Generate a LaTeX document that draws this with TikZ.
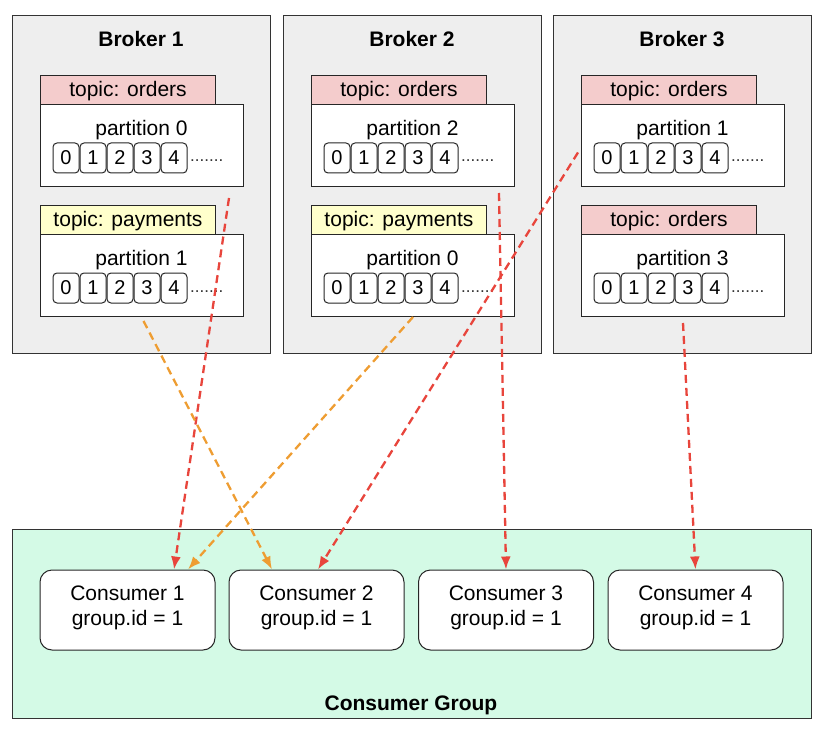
\documentclass[tikz,border=0pt]{standalone}
\usepackage{fontspec}
\setmainfont{Liberation Sans}
\usepackage{tikz}
\usetikzlibrary{
	arrows.meta,
	calc
}
\definecolor{brokerfill}{HTML}{EEEEEE}
\definecolor{groupfill}{HTML}{D4FAE6}
\definecolor{orderfill}{HTML}{F4CCCC}
\definecolor{payfill}{HTML}{FFFFCC}
\definecolor{linkred}{HTML}{E8453C}
\definecolor{linkorange}{HTML}{EE9D32}
\tikzset{
	every node/.style={
		font=\fontsize{21}{25}\selectfont
	},
	broker/.style={
		draw=black!80,
		fill=brokerfill,
		line width=1pt,
		anchor=north west,
		minimum width=258pt,
		minimum height=338pt
	},
	title/.style={
		font=\fontsize{21}{25}\selectfont\bfseries
	},
	tab/.style={
		draw=black!85,
		line width=1pt,
		anchor=north west,
		minimum width=175pt,
		minimum height=29pt,
		inner sep=0pt,
		text depth=3pt
	},
	orders/.style={fill=orderfill},
	payments/.style={fill=payfill},
	part/.style={
		draw=black!85,
		fill=white,
		line width=1pt,
		anchor=north west,
		minimum width=203pt,
		minimum height=82pt
	},
	cell/.style={
		draw=black!85,
		fill=white,
		line width=1pt,
		rounded corners=4pt,
		minimum width=26pt,
		minimum height=30pt,
		inner sep=0pt,
		font=\fontsize{20}{24}\selectfont
	},
	consumer/.style={
		draw=black!85,
		fill=white,
		line width=1pt,
		rounded corners=12pt,
		minimum width=175pt,
		minimum height=80pt,
		align=center
	},
	link/.style={
		line width=2.3pt,
		dash pattern=on 8pt off 5pt,
		-{Latex[length=13pt,width=10pt]}
	}
}
% name, x, y, tab style, topic, partition
\newcommand{\kpart}[6]{
	\node[tab,#4] (#1t) at (#2,#3) {topic: #5};
	\node[part] (#1) at (#2,#3+29) {};
	\node (#1l) at (#2+101.5,#3+55) {partition #6};
	\foreach \i in {0,...,4}
		\node[cell] (#1c\i) at (#2+26+27*\i,#3+83) {\i};
	\node[anchor=base west,inner sep=0pt,text=black!80,
		font=\fontsize{17}{20}\selectfont] (#1d) at (#2+150,#3+87) {.......};
}

\begin{document}
\begin{tikzpicture}[x=1pt,y=-1pt] %%%%% brokers and consumer group
	\useasboundingbox (0,0) rectangle (824,738);
	\node[broker] (b1) at (12,15) {};
	\node[broker] (b2) at (283,15) {};
	\node[broker] (b3) at (553,15) {};
	\node[title] (b1n) at (141,39) {Broker 1};
	\node[title] (b2n) at (412,39) {Broker 2};
	\node[title] (b3n) at (682,39) {Broker 3};
	\kpart{b1p0}{40}{75}{orders}{orders}{0}
	\kpart{b1p1}{40}{205}{payments}{payments}{1}
	\kpart{b2p2}{311}{75}{orders}{orders}{2}
	\kpart{b2p0}{311}{205}{payments}{payments}{0}
	\kpart{b3p1}{581}{75}{orders}{orders}{1}
	\kpart{b3p3}{581}{205}{orders}{orders}{3}
	\node[draw=black!80,fill=groupfill,line width=1pt,anchor=north west,
		minimum width=799pt,minimum height=189pt] (grp) at (12,529) {};
	\node[title] (grpn) at (411,705) {Consumer Group};
	\foreach \n/\x in {1/127.5,2/316.5,3/506,4/695.5}
		\node[consumer] (c\n) at (\x,610) {};
	\foreach \n in {1,...,4}
		\node[align=center] (c\n t) at ([yshift=2pt]c\n.center) {Consumer \n\\group.id = 1};
	\coordinate (s1) at ([xshift=-15pt,yshift=-11pt]b1p0.south east);
	\coordinate (s2) at ([xshift=1.5pt,yshift=-4pt]b1p1.south);
	\coordinate (s3) at (b2p0.south);
	\coordinate (s4) at ([xshift=-3pt,yshift=-7pt]b3p1.west);
	\coordinate (s5) at ([xshift=-16pt,yshift=-6pt]b2p2.south east);
	\coordinate (s6) at ([yshift=-6pt]b3p3.south);
	\draw[link,linkred] (s1) -- ([xshift=46.5pt]c1.north);
	\draw[link,linkorange] (s2) -- ([xshift=-44.5pt]c2.north);
	\draw[link,linkorange] (s3) -- ([xshift=60.5pt]c1.north);
	\draw[link,linkred] (s4) -- ([xshift=1.5pt]c2.north);
	\draw[link,linkred] (s5) -- (c3.north);
	\draw[link,linkred] (s6) -- (c4.north);
\end{tikzpicture}
\end{document}
